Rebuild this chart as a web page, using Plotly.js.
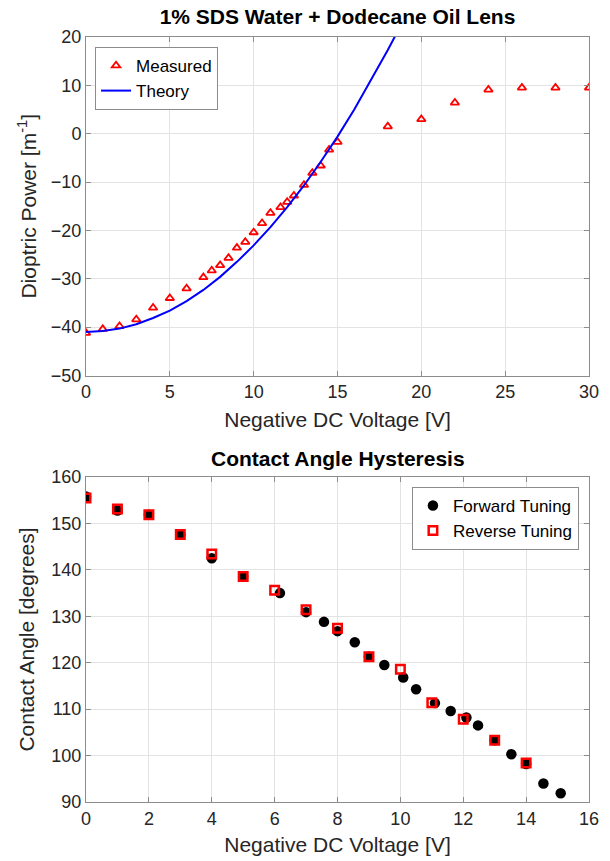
<!DOCTYPE html>
<html>
<head>
<meta charset="utf-8">
<script src="https://cdn.plot.ly/plotly-3.0.1.min.js"></script>
<style>html,body{margin:0;padding:0;background:#fff;}#chart{width:610px;height:861px;}</style>
</head>
<body>
<div id="chart"></div>
<script>
// Top chart: measured dioptric power
const measuredV = [0, 1, 2, 3, 4, 5, 6, 7, 7.5, 8, 8.5, 9, 9.5, 10, 10.5, 11, 11.6, 12, 12.4, 13, 13.5, 14, 14.5, 15, 18, 20, 22, 24, 26, 28, 30];
const measuredP = [-41.2, -40.4, -39.8, -38.4, -36.0, -34.0, -32.0, -29.7, -28.3, -27.2, -25.7, -23.6, -22.4, -20.4, -18.5, -16.4, -15.2, -14.1, -12.8, -10.6, -8.1, -6.6, -3.3, -1.7, 1.5, 3.0, 6.4, 9.1, 9.5, 9.5, 9.5];
// Top chart: theory curve
const theoryV = [0, 1, 2, 3, 4, 5, 6, 7, 8, 9, 10, 11, 12, 13, 14, 15, 16, 17, 18, 18.5, 19];
const theoryP = [-41.0, -40.8, -40.3, -39.4, -38.1, -36.6, -34.6, -32.3, -29.6, -26.5, -23.1, -19.3, -15.2, -10.7, -5.8, -0.6, 5.0, 11.0, 17.3, 20.6, 24.0];
// Bottom chart: contact angle
const forwardV = [0, 1, 2, 3, 4, 5, 6.17, 7, 7.57, 8, 8.55, 9, 9.49, 10.09, 10.5, 11.1, 11.6, 12.1, 12.47, 13, 13.53, 14, 14.55, 15.1];
const forwardA = [155.8, 152.8, 151.9, 147.6, 142.5, 138.6, 135.0, 130.9, 128.8, 126.8, 124.4, 121.3, 119.5, 116.8, 114.3, 111.3, 109.6, 108.2, 106.5, 103.3, 100.3, 98.2, 94.0, 91.9];
const reverseV = [0, 1, 2, 3, 4, 5, 6, 7, 8, 9, 10, 11, 12, 13, 14];
const reverseA = [155.5, 153.1, 151.9, 147.6, 143.4, 138.6, 135.6, 131.4, 127.4, 121.3, 118.6, 111.4, 107.8, 103.3, 98.4];

const topTitle = '1% SDS Water + Dodecane Oil Lens';
const bottomTitle = 'Contact Angle Hysteresis';
const xTitle = 'Negative DC Voltage [V]';
const yTitleTop = 'Dioptric Power [m<sup>-1</sup>]';
const yTitleBottom = 'Contact Angle [degrees]';

const FONT = 'Liberation Sans, Arial, sans-serif';
const axisCommon = {
  showgrid: true, gridcolor: '#e3e3e3', gridwidth: 1,
  zeroline: false, showline: true, linecolor: '#8c8c8c', linewidth: 1,
  mirror: 'ticks', ticks: 'inside', ticklen: 5, tickcolor: '#8c8c8c',
  tickfont: {family: FONT, size: 18, color: '#262626'},
  title: {font: {family: FONT, size: 21, color: '#262626'}}
};
function ax(extra) {
  const o = JSON.parse(JSON.stringify(axisCommon));
  for (const k in extra) {
    if (k === 'title') { o.title.text = extra.title.text; if (extra.title.standoff !== undefined) o.title.standoff = extra.title.standoff; }
    else o[k] = extra[k];
  }
  return o;
}

const traces = [
  {x: measuredV, y: measuredP, type: 'scatter', mode: 'markers', name: 'Measured',
   marker: {symbol: 'triangle-up-open', size: 7.5, color: '#ff0000', line: {color: '#ff0000', width: 1.8}},
   xaxis: 'x', yaxis: 'y', legend: 'legend'},
  {x: theoryV, y: theoryP, type: 'scatter', mode: 'lines', name: 'Theory',
   line: {color: '#0000ff', width: 2}, xaxis: 'x', yaxis: 'y', legend: 'legend'},
  {x: forwardV, y: forwardA, type: 'scatter', mode: 'markers', name: 'Forward Tuning',
   marker: {symbol: 'circle', size: 10.5, color: '#000000'}, xaxis: 'x2', yaxis: 'y2', legend: 'legend2'},
  {x: reverseV, y: reverseA, type: 'scatter', mode: 'markers', name: 'Reverse Tuning',
   marker: {symbol: 'square-open', size: 8.5, color: '#ff0000', line: {color: '#ff0000', width: 2.5}},
   xaxis: 'x2', yaxis: 'y2', legend: 'legend2'}
];

const layout = {
  width: 610, height: 861,
  margin: {l: 86, r: 21, t: 37, b: 59},
  paper_bgcolor: '#ffffff', plot_bgcolor: '#ffffff',
  font: {family: FONT, color: '#262626'},
  showlegend: true,
  title: {text: '<b>' + topTitle + '</b>', font: {family: FONT, size: 21, color: '#000'},
          x: 0.5, xanchor: 'center', xref: 'paper', y: 1 - 17/861, yanchor: 'middle'},
  xaxis: ax({domain: [0, 1], range: [0, 30], tickvals: [0,5,10,15,20,25,30], anchor: 'y',
             title: {text: xTitle, standoff: 11}}),
  yaxis: ax({domain: [0.5575, 1], range: [-50, 20], tickvals: [-50,-40,-30,-20,-10,0,10,20], anchor: 'x',
             title: {text: yTitleTop, standoff: 8}}),
  xaxis2: ax({domain: [0, 1], range: [0, 16], tickvals: [0,2,4,6,8,10,12,14,16], anchor: 'y2',
              title: {text: xTitle, standoff: 9}}),
  yaxis2: ax({domain: [0, 0.4248], range: [90, 160], tickvals: [90,100,110,120,130,140,150,160], anchor: 'x2',
              title: {text: yTitleBottom, standoff: 10}}),
  legend: {x: 0.018, y: 0.987, xanchor: 'left', yanchor: 'top', xref: 'paper', yref: 'paper',
           bgcolor: '#ffffff', bordercolor: '#8c8c8c', borderwidth: 1,
           font: {family: FONT, size: 17, color: '#000'}, tracegroupgap: 0, itemwidth: 30},
  legend2: {x: 0.980, y: 0.4118, xanchor: 'right', yanchor: 'top', xref: 'paper', yref: 'paper',
            bgcolor: '#ffffff', bordercolor: '#8c8c8c', borderwidth: 1,
            font: {family: FONT, size: 17, color: '#000'}, tracegroupgap: 0, itemwidth: 30},
  annotations: [
    {text: '<b>' + bottomTitle + '</b>', xref: 'paper', yref: 'paper', x: 0.5, y: (802-458)/765,
     xanchor: 'center', yanchor: 'middle', showarrow: false, font: {family: FONT, size: 21, color: '#000'}}
  ]
};

Plotly.newPlot('chart', traces, layout, {displayModeBar: false, staticPlot: true});
</script>
</body>
</html>
